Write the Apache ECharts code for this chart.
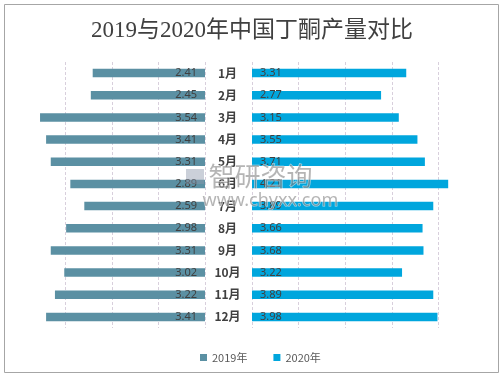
<!DOCTYPE html>
<html><head><meta charset="utf-8">
<script src="https://cdn.jsdelivr.net/npm/echarts@6/dist/echarts.min.js"></script>
<style>html,body{margin:0;padding:0;background:#fff}#c{width:504px;height:378px}</style>
</head><body><div id="c"></div>
<script>
const months = ['1月','2月','3月','4月','5月','6月','7月','8月','9月','10月','11月','12月'];
const data2019 = [2.41,2.45,3.54,3.41,3.31,2.89,2.59,2.98,3.31,3.02,3.22,3.41];
const data2020 = [3.31,2.77,3.15,3.55,3.71,4.21,3.89,3.66,3.68,3.22,3.89,3.98];
const seriesNames = ['2019年','2020年'];
const titleText = '2019与2020年中国丁酮产量对比';

const chart = echarts.init(document.getElementById('c'), null, {renderer:'canvas'});
const gridLine = {show:true, showMaxLine:false, lineStyle:{color:'#d8cfdc', type:[3,2], width:1}};
const labelStyle = {color:'#404040', fontSize:11, fontFamily:'Noto Sans, sans-serif'};
chart.setOption({
  animation:false,
  backgroundColor:'#fff',
  title:{text:titleText, left:'center', top:14,
    textStyle:{fontSize:23, fontWeight:'normal', color:'#404040', fontFamily:'Liberation Serif, Noto Sans CJK SC, serif'}},
  legend:{data:seriesNames, left:195, top:347, icon:'rect', itemWidth:7, itemHeight:7, itemGap:26,
    textStyle:{color:'#595959', fontSize:11, fontFamily:'Noto Sans CJK SC, sans-serif'}},
  grid:[
    {left:18.6, right:299, top:62, height:266},
    {left:252, right:42.3, top:62, height:266}
  ],
  xAxis:[
    {gridIndex:0, type:'value', min:0, max:4, interval:1, inverse:true,
      axisLabel:{show:false}, axisLine:{show:false}, axisTick:{show:false}, splitLine:gridLine},
    {gridIndex:1, type:'value', min:0, max:4.5, interval:1,
      axisLabel:{show:false}, axisLine:{show:false}, axisTick:{show:false}, splitLine:gridLine}
  ],
  yAxis:[
    {gridIndex:0, type:'category', data:months, inverse:true,
      axisLabel:{show:false}, axisLine:{show:false}, axisTick:{show:false}},
    {gridIndex:1, type:'category', data:months, inverse:true, position:'left',
      axisLabel:{show:true, interval:0, align:'center', margin:24.5, color:'#404040', fontSize:12, fontWeight:'bold',
        fontFamily:'Noto Sans CJK SC, sans-serif'},
      axisLine:{show:false}, axisTick:{show:false}}
  ],
  series:[
    {name:seriesNames[0], type:'bar', xAxisIndex:0, yAxisIndex:0, data:data2019, barWidth:8.5,
      itemStyle:{color:'#5B90A3'},
      label:{show:true, position:'insideRight', distance:8, ...labelStyle}},
    {name:seriesNames[1], type:'bar', xAxisIndex:1, yAxisIndex:1, data:data2020, barWidth:8.5,
      itemStyle:{color:'#00A6DD'},
      label:{show:true, position:'insideLeft', distance:8, ...labelStyle}}
  ],
  graphic:[
    {type:'rect', shape:{x:4.5, y:4.5, width:494, height:368}, style:{fill:'none', stroke:'#a6a6a6', lineWidth:1}, silent:true, z:-1},
    {type:'text', left:208, top:163, silent:true, z:100,
      style:{text:'智研咨询', fontSize:26, fill:'rgba(120,120,120,0.55)', stroke:'rgba(255,255,255,0.6)', lineWidth:1, fontFamily:'Noto Sans CJK SC, sans-serif'}},
    {type:'text', left:202, top:191, silent:true, z:100,
      style:{text:'www.chyxx.com', fontSize:18, fill:'rgba(120,120,120,0.55)', stroke:'rgba(255,255,255,0.6)', lineWidth:1, fontFamily:'Noto Sans, sans-serif'}},
    {type:'rect', shape:{x:186, y:169, width:18, height:15}, silent:true, z:100,
      style:{fill:'rgba(140,150,170,0.45)'}}
  ]
});
</script></body></html>
